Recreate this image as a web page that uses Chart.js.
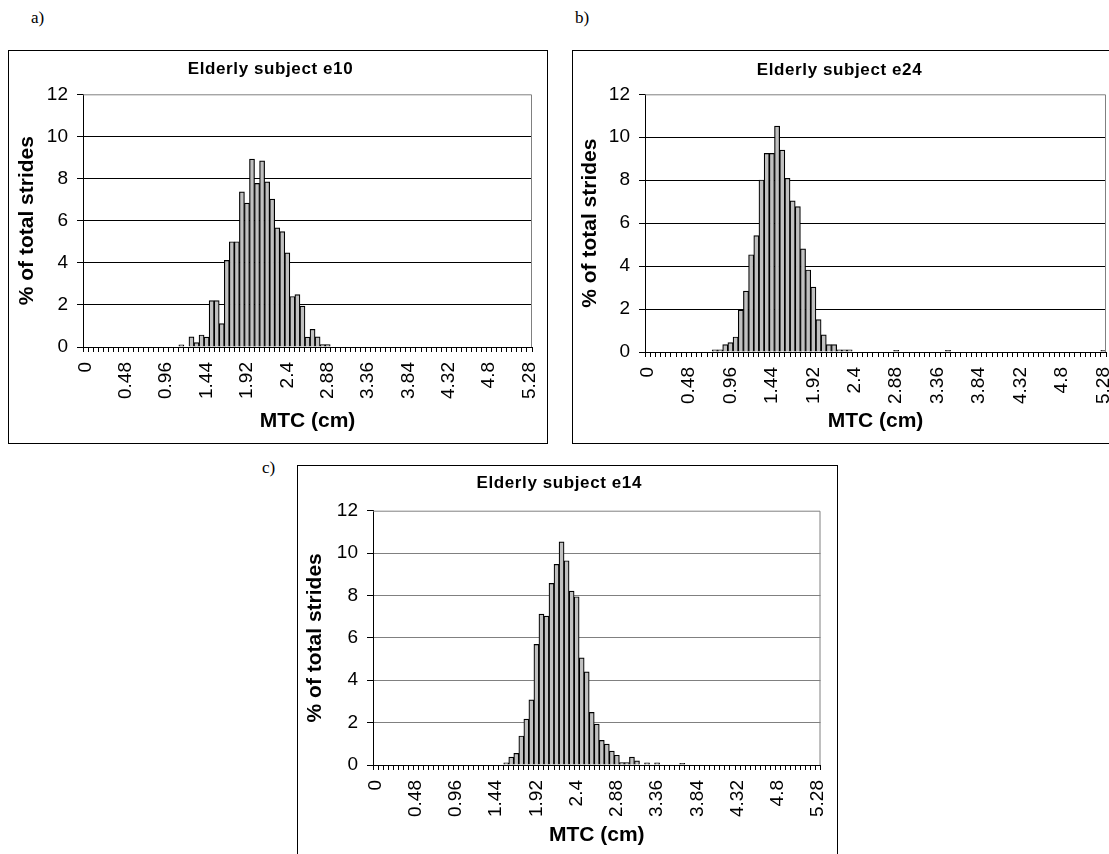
<!DOCTYPE html>
<html>
<head>
<meta charset="utf-8">
<script src="https://cdn.jsdelivr.net/npm/chart.js@4/dist/chart.umd.min.js"></script>
<style>
  html, body { margin: 0; padding: 0; background: #fff; }
  body { position: relative; width: 1109px; height: 854px; overflow: hidden; }
  .box { position: absolute; border: 1px solid #000; background: #fff; }
  .box canvas { display: block; }
  .tag { position: absolute; font-family: "Liberation Serif", "Times New Roman", serif; font-size: 17px; color: #000; }
</style>
</head>
<body>
<div class="tag" style="left:31px;top:8px">a)</div>
<div class="tag" style="left:575px;top:8px">b)</div>
<div class="tag" style="left:262px;top:458px">c)</div>

<div class="box" style="left:8px;top:50px;width:538px;height:392px"><canvas id="chartA" width="538" height="392"></canvas></div>
<div class="box" style="left:572px;top:50px;width:542px;height:392px"><canvas id="chartB" width="542" height="392"></canvas></div>
<div class="box" style="left:297px;top:465px;width:539px;height:392px"><canvas id="chartC" width="539" height="392"></canvas></div>

<script>
// MTC bins, 0.06 cm wide, 0 .. 5.28
const mtcBins = Array.from({ length: 89 }, (_, i) => (i * 0.06).toFixed(2));
// labels Excel shows (every 8th bin)
const tickLabels = ['0', '0.48', '0.96', '1.44', '1.92', '2.4', '2.88', '3.36', '3.84', '4.32', '4.8', '5.28'];

// % of total strides per bin
const e10 = [
  0, 0, 0, 0, 0, 0, 0, 0, 0, 0,
  0, 0, 0, 0, 0, 0, 0, 0, 0, 0.1,
  0, 0.48, 0.21, 0.57, 0.47, 2.2, 2.2, 1.11, 4.11, 5.0,
  5.0, 7.37, 6.83, 8.92, 7.77, 8.84, 7.84, 7.02, 5.66, 5.48,
  4.47, 2.4, 2.49, 1.94, 0.47, 0.84, 0.48, 0.11, 0.11, 0,
  0, 0, 0, 0, 0, 0, 0, 0, 0, 0,
  0, 0, 0, 0, 0, 0, 0, 0, 0, 0,
  0, 0, 0, 0, 0, 0, 0, 0, 0, 0,
  0, 0, 0, 0, 0, 0, 0, 0, 0
];
const e24 = [
  0, 0, 0, 0, 0, 0, 0, 0, 0, 0,
  0, 0, 0, 0.1, 0.1, 0.34, 0.44, 0.7, 1.95, 2.84,
  4.53, 5.42, 8.01, 9.25, 9.25, 10.52, 9.4, 8.09, 7.04, 6.77,
  4.8, 3.82, 3.02, 1.51, 0.8, 0.34, 0.34, 0.1, 0.1, 0.1,
  0, 0, 0, 0, 0, 0, 0, 0, 0.08, 0,
  0, 0, 0, 0, 0, 0, 0, 0, 0.08, 0,
  0, 0, 0, 0, 0, 0, 0, 0, 0, 0,
  0, 0, 0, 0, 0, 0, 0, 0, 0, 0,
  0, 0, 0, 0, 0, 0, 0, 0, 0.08
];
const e14 = [
  0, 0, 0, 0, 0, 0, 0, 0, 0, 0,
  0, 0, 0, 0, 0, 0, 0, 0, 0, 0,
  0, 0, 0, 0, 0, 0, 0.1, 0.37, 0.55, 1.37,
  2.17, 3.07, 5.69, 7.12, 7.03, 8.57, 9.47, 10.53, 9.64, 8.21,
  7.94, 5.06, 4.4, 2.48, 1.93, 1.16, 0.99, 0.66, 0.46, 0.12,
  0.12, 0.37, 0.2, 0, 0.1, 0, 0.1, 0, 0, 0,
  0, 0.08, 0, 0, 0, 0, 0, 0, 0, 0,
  0, 0, 0, 0, 0, 0, 0, 0, 0, 0,
  0, 0, 0, 0, 0, 0, 0, 0, 0
];

const FONT = 'Arial, "Liberation Sans", sans-serif';

// grey frame on top and right of the plot area, like Excel
const plotFrame = {
  id: 'plotFrame',
  afterDatasetsDraw(chart) {
    const { ctx, chartArea: a } = chart;
    ctx.save();
    ctx.strokeStyle = '#808080';
    ctx.lineWidth = 1;
    ctx.beginPath();
    ctx.moveTo(a.left, a.top + 0.5);
    ctx.lineTo(a.right - 0.5, a.top + 0.5);
    ctx.lineTo(a.right - 0.5, a.bottom);
    ctx.stroke();
    ctx.restore();
  }
};

// Excel spreads the chart title letters out a little
const spacedTitle = {
  id: 'spacedTitle',
  afterInit(chart) {
    const block = chart.titleBlock;
    if (!block) return;
    const draw = block.draw.bind(block);
    block.draw = function (area) {
      const prev = chart.ctx.letterSpacing;
      chart.ctx.letterSpacing = '0.6px';
      draw(area);
      chart.ctx.letterSpacing = prev || '0px';
    };
  }
};

function makeChart(id, values, title, gridColor, lay) {
  return new Chart(document.getElementById(id), {
    type: 'bar',
    data: {
      labels: mtcBins,
      datasets: [{
        data: values,
        backgroundColor: '#c0c0c0',
        borderColor: '#000',
        borderWidth: 1.2,
        barPercentage: 1,
        categoryPercentage: 1
      }]
    },
    options: {
      responsive: false,
      animation: false,
      layout: { padding: { top: 0, right: lay.right, bottom: 0, left: 0 } },
      plugins: {
        legend: { display: false },
        tooltip: { enabled: false },
        title: {
          display: true,
          text: title,
          color: '#000',
          font: { family: FONT, size: 17, weight: 'bold', lineHeight: 1.2 },
          padding: { top: lay.titleTop, bottom: lay.titleBottom }
        }
      },
      scales: {
        x: {
          grid: { drawOnChartArea: false, color: '#000', tickColor: '#000', tickLength: 5 },
          border: { color: '#000' },
          ticks: {
            autoSkip: false,
            minRotation: 90,
            maxRotation: 90,
            padding: 10,
            color: '#000',
            font: { family: FONT, size: 19 },
            callback: (v, i) => (i % 8 === 0 ? tickLabels[i / 8] : '')
          },
          title: {
            display: true,
            text: 'MTC (cm)',
            color: '#000',
            font: { family: FONT, size: 21, weight: 'bold' },
            padding: { top: 0, bottom: lay.xTitleBottom }
          },
          afterFit: s => { s.height = lay.xHeight; s.paddingLeft = 0; s.paddingRight = 0; }
        },
        y: {
          min: 0,
          max: 12,
          ticks: { stepSize: 2, padding: 9, color: '#000', font: { family: FONT, size: 19 } },
          grid: {
            color: c => (c.tick && c.tick.value === 12 ? 'rgba(0,0,0,0)' : gridColor),
            tickColor: '#000',
            tickLength: 6
          },
          border: { color: '#000' },
          title: {
            display: true,
            text: '% of total strides',
            color: '#000',
            font: { family: FONT, size: 21, weight: 'bold' },
            padding: { top: lay.yTitleLeft, bottom: 0 }
          },
          afterFit: s => { s.width = lay.yWidth; }
        }
      }
    },
    plugins: [plotFrame, spacedTitle]
  });
}

makeChart('chartA', e10, 'Elderly subject e10', '#000',
  { right: 15, titleTop: 7.8, titleBottom: 15.1, xHeight: 96, xTitleBottom: 8.7, yTitleLeft: 5.4, yWidth: 74 });
makeChart('chartB', e24, 'Elderly subject e24', '#000',
  { right: 9, titleTop: 8.8, titleBottom: 14.1, xHeight: 91, xTitleBottom: 8.7, yTitleLeft: 4.4, yWidth: 72 });
makeChart('chartC', e14, 'Elderly subject e14', '#808080',
  { right: 16.5, titleTop: 7.1, titleBottom: 17.2, xHeight: 93, xTitleBottom: 10.4, yTitleLeft: 4.4, yWidth: 75 });
</script>
</body>
</html>
